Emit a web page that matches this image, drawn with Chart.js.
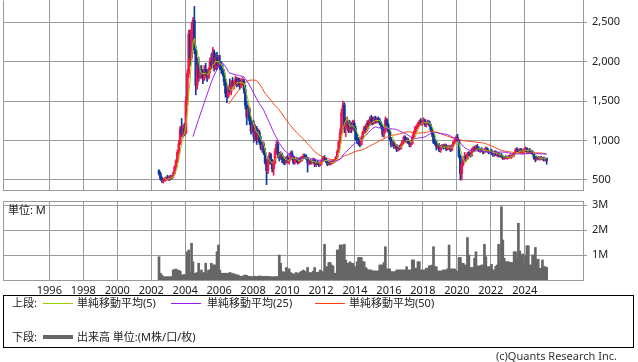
<!DOCTYPE html>
<html>
<head>
<meta charset="utf-8">
<script src="https://cdn.jsdelivr.net/npm/chart.js@4.4.1/dist/chart.umd.min.js"></script>
<style>
  body { margin: 0; background: #fff; width: 638px; height: 362px; position: relative; overflow: hidden;
         font-family: "Noto Sans", "Noto Sans CJK JP", sans-serif; color: #222; }
  canvas { position: absolute; left: 0; }
  #priceChart { top: 0; }
  #volumeChart { top: 196px; }
  .abs { position: absolute; white-space: nowrap; font-size: 11px; line-height: 12px; }
  #unit { left: 8px; top: 204px; }
  #legend { position: absolute; left: 3px; top: 295px; width: 629px; height: 51px; border: 1px solid #000; }
  .swatch { position: absolute; height: 1px; width: 30px; }
  #copy { right: 21px; top: 350px; color: #333; }
</style>
</head>
<body>
<canvas id="priceChart" width="638" height="192"></canvas>
<canvas id="volumeChart" width="638" height="100"></canvas>
<div class="abs" id="unit">単位: M</div>
<div id="legend">
  <div class="abs" style="left:8px;top:1px">上段:</div>
  <div class="swatch" style="left:39px;top:7px;background:#99cc00"></div>
  <div class="abs" style="left:73px;top:1px">単純移動平均(5)</div>
  <div class="swatch" style="left:167px;top:7px;background:#9b1cf0"></div>
  <div class="abs" style="left:203px;top:1px">単純移動平均(25)</div>
  <div class="swatch" style="left:311px;top:7px;background:#ff3d0d"></div>
  <div class="abs" style="left:345px;top:1px">単純移動平均(50)</div>
  <div class="abs" style="left:8px;top:35px">下段:</div>
  <div class="swatch" style="left:39px;top:39px;height:4px;background:#666"></div>
  <div class="abs" style="left:73px;top:35px">出来高 単位:(M株/口/枚)</div>
</div>
<div class="abs" id="copy">(c)Quants Research Inc.</div>
<script>
// monthly bars, first one June 2002
const firstYear = 2002;
const firstMonth = 6;

const opens = [
  620, 580, 520, 490, 500, 510, 530,
  520, 530, 520, 550, 580, 660, 740, 850, 960, 1150, 1080, 1160,
  1100, 1500, 1850, 2350, 2050, 2400, 2520, 2150, 1700, 1950, 1800, 1900,
  1850, 1780, 1900, 1850, 1800, 1880, 2000, 1950, 2120, 1920, 2050, 1950,
  2000, 1950, 1900, 1860, 1750, 1600, 1560, 1680, 1620, 1720, 1700, 1740,
  1780, 1700, 1760, 1690, 1750, 1760, 1650, 1450, 1300, 1400, 1250, 1120,
  1200, 1050, 1150, 1000, 1100, 980, 900, 950, 850, 720, 620, 760,
  820, 720, 640, 720, 860, 950, 820, 780, 820, 760, 740, 720,
  780, 740, 760, 840, 800, 720, 750, 770, 720, 760, 750, 790,
  800, 790, 780, 720, 740, 720, 730, 760, 700, 720, 710, 690,
  720, 750, 780, 770, 730, 700, 720, 710, 730, 740, 750, 790,
  860, 980, 1100, 1350, 1450, 1150, 1200, 1250, 1120, 1200, 1150, 1220,
  1150, 1020, 1000, 980, 950, 1030, 1100, 1160, 1130, 1220, 1200, 1270,
  1250, 1220, 1280, 1250, 1270, 1250, 1220, 1180, 1080, 1120, 1260, 1200,
  1120, 1020, 950, 980, 920, 940, 880, 920, 900, 950, 990, 1040,
  1000, 1010, 980, 950, 960, 1040, 1100, 1160, 1180, 1210, 1240, 1220,
  1230, 1260, 1200, 1220, 1240, 1200, 1140, 1080, 980, 960, 920, 940,
  880, 920, 930, 910, 940, 890, 910, 920, 880, 940, 980, 1010,
  1040, 1000, 800, 580, 700, 760, 800, 770, 830, 820, 810, 880,
  900, 880, 920, 900, 870, 890, 870, 850, 880, 900, 860, 850,
  870, 840, 830, 860, 820, 840, 800, 820, 800, 770, 790, 780,
  790, 800, 790, 810, 820, 840, 880, 870, 850, 890, 850, 870,
  880, 900, 860, 880, 870, 860, 830, 780, 770, 790, 770, 780,
  770, 780, 760, 770
];

const highs = [
  630, 600, 540, 520, 530, 540, 560,
  550, 560, 560, 600, 680, 760, 880, 1000, 1180, 1280, 1200, 1220,
  1550, 1900, 2400, 2400, 2500, 2560, 2700, 2200, 2050, 2050, 1950, 1950,
  1900, 1950, 1980, 1900, 1920, 2050, 2100, 2180, 2150, 2100, 2120, 2080,
  2080, 2000, 1960, 1900, 1780, 1650, 1700, 1780, 1760, 1800, 1760, 1820,
  1800, 1800, 1790, 1780, 1800, 1780, 1700, 1500, 1450, 1420, 1300, 1250,
  1250, 1200, 1180, 1150, 1130, 1050, 1000, 980, 900, 760, 800, 850,
  840, 760, 750, 900, 1000, 980, 850, 860, 840, 800, 780, 800,
  820, 780, 860, 870, 810, 780, 790, 780, 780, 790, 800, 830,
  830, 820, 790, 760, 760, 750, 780, 770, 730, 750, 730, 730,
  760, 800, 810, 780, 740, 740, 740, 740, 760, 760, 800, 880,
  1000, 1150, 1400, 1500, 1480, 1280, 1300, 1260, 1250, 1230, 1260, 1250,
  1180, 1080, 1040, 1020, 1050, 1120, 1180, 1200, 1250, 1260, 1300, 1320,
  1300, 1300, 1310, 1290, 1300, 1280, 1240, 1200, 1150, 1300, 1280, 1220,
  1140, 1040, 1000, 990, 960, 950, 930, 940, 960, 1000, 1060, 1060,
  1040, 1030, 1000, 980, 1060, 1120, 1180, 1200, 1230, 1260, 1280, 1260,
  1290, 1270, 1240, 1260, 1250, 1210, 1160, 1100, 1020, 990, 960, 960,
  940, 950, 950, 960, 950, 930, 940, 930, 950, 990, 1030, 1060,
  1080, 1010, 820, 720, 780, 850, 820, 850, 860, 850, 900, 920,
  930, 940, 950, 920, 900, 910, 880, 900, 920, 910, 880, 880,
  890, 860, 870, 870, 850, 850, 830, 840, 810, 800, 810, 800,
  810, 820, 820, 830, 850, 900, 910, 890, 900, 900, 880, 900,
  920, 910, 890, 900, 880, 870, 850, 800, 800, 800, 790, 800,
  790, 790, 780, 780
];

const lows = [
  560, 500, 470, 460, 480, 490, 500,
  490, 500, 510, 530, 570, 640, 720, 830, 950, 1050, 1040, 1060,
  1080, 1450, 1800, 1950, 2000, 2250, 2100, 1580, 1650, 1750, 1780, 1800,
  1720, 1760, 1820, 1750, 1780, 1850, 1900, 1930, 1880, 1900, 1900, 1930,
  1900, 1850, 1820, 1700, 1550, 1480, 1540, 1600, 1580, 1680, 1650, 1700,
  1680, 1690, 1650, 1670, 1700, 1600, 1400, 1200, 1280, 1200, 1080, 1100,
  980, 1000, 950, 980, 950, 880, 850, 820, 700, 440, 580, 700,
  700, 600, 560, 700, 840, 780, 740, 760, 720, 700, 690, 710,
  720, 700, 750, 780, 700, 700, 720, 700, 710, 730, 740, 770,
  770, 760, 600, 690, 700, 700, 720, 670, 670, 690, 670, 680,
  700, 740, 750, 720, 680, 690, 690, 700, 710, 720, 740, 780,
  850, 960, 1080, 1300, 1100, 1050, 1150, 1100, 1100, 1100, 1130, 1120,
  1000, 960, 940, 920, 940, 1020, 1090, 1100, 1120, 1150, 1190, 1200,
  1200, 1210, 1220, 1220, 1230, 1200, 1150, 1050, 1040, 1100, 1180, 1100,
  1000, 920, 930, 900, 900, 860, 870, 880, 890, 940, 960, 980,
  970, 960, 920, 920, 950, 1030, 1080, 1120, 1150, 1180, 1200, 1190,
  1210, 1180, 1170, 1200, 1180, 1120, 1050, 960, 940, 880, 900, 860,
  850, 900, 890, 900, 870, 880, 890, 860, 870, 920, 960, 990,
  980, 780, 500, 500, 680, 740, 740, 760, 800, 790, 800, 860,
  860, 870, 880, 860, 850, 860, 830, 840, 860, 850, 830, 840,
  820, 800, 800, 810, 800, 790, 790, 790, 760, 760, 770, 760,
  770, 780, 770, 790, 800, 830, 850, 840, 840, 840, 830, 850,
  860, 850, 840, 850, 840, 820, 760, 730, 750, 760, 750, 760,
  750, 740, 740, 700
];

const closes = [
  580, 520, 490, 500, 510, 530, 520,
  530, 520, 550, 580, 660, 740, 850, 960, 1150, 1080, 1160, 1100,
  1500, 1850, 2350, 2050, 2400, 2520, 2150, 1700, 1950, 1800, 1900, 1850,
  1780, 1900, 1850, 1800, 1880, 2000, 1950, 2120, 1920, 2050, 1950, 2000,
  1950, 1900, 1860, 1750, 1600, 1560, 1680, 1620, 1720, 1700, 1740, 1780,
  1700, 1760, 1690, 1750, 1760, 1650, 1450, 1300, 1400, 1250, 1120, 1200,
  1050, 1150, 1000, 1100, 980, 900, 950, 850, 720, 620, 760, 820,
  720, 640, 720, 860, 950, 820, 780, 820, 760, 740, 720, 780,
  740, 760, 840, 800, 720, 750, 770, 720, 760, 750, 790, 800,
  790, 780, 720, 740, 720, 730, 760, 700, 720, 710, 690, 720,
  750, 780, 770, 730, 700, 720, 710, 730, 740, 750, 790, 860,
  980, 1100, 1350, 1450, 1150, 1200, 1250, 1120, 1200, 1150, 1220, 1150,
  1020, 1000, 980, 950, 1030, 1100, 1160, 1130, 1220, 1200, 1270, 1250,
  1220, 1280, 1250, 1270, 1250, 1220, 1180, 1080, 1120, 1260, 1200, 1120,
  1020, 950, 980, 920, 940, 880, 920, 900, 950, 990, 1040, 1000,
  1010, 980, 950, 960, 1040, 1100, 1160, 1180, 1210, 1240, 1220, 1230,
  1260, 1200, 1220, 1240, 1200, 1140, 1080, 980, 960, 920, 940, 880,
  920, 930, 910, 940, 890, 910, 920, 880, 940, 980, 1010, 1040,
  1000, 800, 580, 700, 760, 800, 770, 830, 820, 810, 880, 900,
  880, 920, 900, 870, 890, 870, 850, 880, 900, 860, 850, 870,
  840, 830, 860, 820, 840, 800, 820, 800, 770, 790, 780, 790,
  800, 790, 810, 820, 840, 880, 870, 850, 890, 850, 870, 880,
  900, 860, 880, 870, 860, 830, 780, 770, 790, 770, 780, 770,
  780, 760, 770, 750
];

// volume in millions
const volumes = [
  0.93, 0.27, 0.2, 0.13, 0.13, 0.12, 0.13,
  0.13, 0.12, 0.14, 0.4, 0.42, 0.44, 0.4, 0.38, 0.36, 0.2, 0.2, 0.22,
  0.2, 1.13, 1.2, 0.3, 1.47, 0.73, 0.27, 0.27, 0.3, 0.67, 0.27, 0.4,
  0.27, 0.3, 0.67, 0.27, 0.4, 0.4, 0.67, 0.6, 0.6, 0.6, 1.13, 1.4,
  0.4, 0.27, 0.27, 0.27, 0.27, 0.27, 0.25, 0.3, 0.28, 0.25, 0.25, 0.22,
  0.2, 0.2, 0.15, 0.15, 0.15, 0.18, 0.2, 0.18, 0.15, 0.15, 0.13, 0.13,
  0.15, 0.15, 0.13, 0.15, 0.16, 0.15, 0.15, 0.14, 0.13, 0.15, 0.14, 0.13,
  0.13, 0.12, 0.13, 0.13, 0.13, 0.13, 1.0, 0.67, 0.33, 0.33, 0.28, 0.5,
  0.3, 0.45, 0.3, 0.25, 0.25, 0.22, 0.3, 0.25, 0.28, 0.32, 0.35, 0.4,
  0.35, 0.3, 0.5, 0.3, 0.28, 0.3, 0.35, 0.5, 0.3, 0.3, 0.32, 0.4,
  0.35, 0.3, 1.43, 0.53, 0.53, 0.7, 0.7, 0.6, 0.56, 0.27, 0.27, 1.2,
  1.2, 1.4, 1.4, 1.2, 1.43, 0.8, 0.67, 0.67, 0.73, 0.67, 0.67, 0.53,
  0.53, 0.73, 0.9, 0.9, 0.9, 0.73, 0.73, 0.5, 0.45, 0.4, 0.4, 0.4,
  0.36, 0.36, 0.36, 0.36, 0.36, 0.6, 0.6, 0.6, 0.7, 1.33, 0.44, 0.44,
  0.44, 0.33, 0.33, 0.33, 0.33, 0.4, 0.4, 0.4, 0.4, 0.4, 0.4, 0.4,
  0.53, 0.4, 0.4, 0.4, 0.8, 0.8, 0.47, 0.47, 0.73, 0.73, 0.4, 0.4,
  0.4, 0.4, 0.47, 0.47, 0.57, 0.57, 0.6, 1.33, 0.53, 0.53, 0.36, 0.36,
  0.36, 0.36, 0.4, 0.4, 0.4, 0.45, 1.4, 0.44, 0.44, 0.44, 0.44, 0.36,
  0.36, 0.9, 0.9, 0.67, 0.67, 0.6, 0.6, 1.7, 1.0, 0.5, 0.5, 0.5,
  0.87, 1.13, 0.56, 0.56, 0.56, 0.6, 0.6, 1.43, 0.93, 0.53, 0.53, 0.53,
  0.63, 0.4, 0.4, 0.55, 0.6, 1.43, 0.73, 2.93, 1.6, 0.87, 0.73, 0.73,
  0.73, 0.7, 0.7, 0.7, 1.13, 1.13, 0.8, 2.27, 1.16, 1.0, 1.04, 0.6,
  1.0, 1.37, 1.37, 0.6, 0.6, 1.0, 1.0, 1.3, 0.83, 0.83, 0.47, 0.47,
  0.8, 0.53, 0.53, 0.5
];

const yearTicks = [1996, 1998, 2000, 2002, 2004, 2006, 2008, 2010, 2012, 2014, 2016, 2018, 2020, 2022, 2024];
const priceTicks = [500, 1000, 1500, 2000, 2500];
const volumeTicks = [1, 2, 3];

const gridColor = "#9a9a9a";
const upColor = "#f5164b";
const downColor = "#0d3a9c";
const font = { family: "'Noto Sans', sans-serif", size: 11 };

// x position = middle of each month
const xs = closes.map((_, i) => firstYear + (firstMonth - 1 + i + 0.5) / 12);
const candleColors = closes.map((c, i) => (c >= opens[i] ? upColor : downColor));

function movingAverage(n) {
  const out = [];
  for (let i = n - 1; i < closes.length; i++) {
    let sum = 0;
    for (let j = i - n + 1; j <= i; j++) sum += closes[j];
    out.push({ x: xs[i], y: sum / n });
  }
  return out;
}

const frame = {
  id: "frame",
  beforeDatasetsDraw(chart, args, opts) {
    const { ctx, chartArea: a } = chart;
    ctx.save();
    ctx.strokeStyle = gridColor;
    ctx.lineWidth = 1;
    ctx.beginPath();
    ctx.moveTo(a.left + 0.5, a.bottom);
    ctx.lineTo(a.left + 0.5, a.top + 0.5);
    if (opts.top) ctx.lineTo(a.right, a.top + 0.5);
    ctx.stroke();
    ctx.restore();
  }
};

// keep the plot boxes exactly where the padding puts them
const fixY = s => { s.width = 55; s.paddingTop = 0; s.paddingBottom = 0; };

const xMin = 1993.27;
const xMax = 2027.43;

new Chart(document.getElementById("priceChart"), {
  type: "bar",
  plugins: [frame],
  data: {
    datasets: [
      { type: "line", data: movingAverage(5), borderColor: "#99cc00", borderWidth: 1, pointRadius: 0, order: 0 },
      { type: "line", data: movingAverage(25), borderColor: "#9b1cf0", borderWidth: 1, pointRadius: 0, order: 0 },
      { type: "line", data: movingAverage(50), borderColor: "#ff3d0d", borderWidth: 1, pointRadius: 0, order: 0 },
      {
        data: xs.map((x, i) => ({ x: x, y: [lows[i], highs[i]] })),
        backgroundColor: candleColors, barThickness: 1, grouped: false, order: 2
      },
      {
        data: xs.map((x, i) => ({ x: x, y: [opens[i], closes[i]] })),
        backgroundColor: candleColors, barThickness: 2, grouped: false, order: 1
      }
    ]
  },
  options: {
    responsive: false,
    animation: false,
    layout: { padding: { left: 3, top: 0, right: 0, bottom: 0 } },
    plugins: { legend: { display: false }, tooltip: { enabled: false }, frame: { top: false } },
    scales: {
      x: {
        type: "linear", min: xMin, max: xMax, offset: false,
        grid: { color: gridColor, drawTicks: false, offset: false },
        border: { color: gridColor },
        ticks: { display: false },
        afterBuildTicks: s => { s.ticks = yearTicks.map(v => ({ value: v })); },
        afterFit: s => { s.height = 2; s.paddingLeft = 0; s.paddingRight = 0; }
      },
      y: {
        position: "right", min: 373, max: 2782,
        grid: { color: gridColor, tickLength: 4 },
        border: { color: gridColor },
        ticks: { font: font, color: "#222", padding: 5, callback: v => v.toLocaleString("en-US") },
        afterBuildTicks: s => { s.ticks = priceTicks.map(v => ({ value: v })); },
        afterFit: fixY
      }
    }
  }
});

new Chart(document.getElementById("volumeChart"), {
  type: "bar",
  plugins: [frame],
  data: {
    datasets: [{
      data: xs.map((x, i) => ({ x: x, y: volumes[i] })),
      backgroundColor: "#666666", barThickness: 2, grouped: false
    }]
  },
  options: {
    responsive: false,
    animation: false,
    layout: { padding: { left: 3, top: 5, right: 0, bottom: 0 } },
    plugins: { legend: { display: false }, tooltip: { enabled: false }, frame: { top: true } },
    scales: {
      x: {
        type: "linear", min: xMin, max: xMax, offset: false,
        grid: { color: gridColor, drawTicks: false, offset: false },
        border: { color: gridColor },
        ticks: { font: font, color: "#222", padding: 4, maxRotation: 0, autoSkip: false, callback: v => String(v) },
        afterBuildTicks: s => { s.ticks = yearTicks.map(v => ({ value: v })); },
        afterFit: s => { s.height = 16; s.paddingLeft = 0; s.paddingRight = 0; }
      },
      y: {
        position: "right", min: 0, max: 3.16,
        grid: { color: gridColor, tickLength: 4 },
        border: { color: gridColor },
        ticks: { font: font, color: "#222", padding: 5, callback: v => v + "M" },
        afterBuildTicks: s => { s.ticks = volumeTicks.map(v => ({ value: v })); },
        afterFit: fixY
      }
    }
  }
});
</script>
</body>
</html>
